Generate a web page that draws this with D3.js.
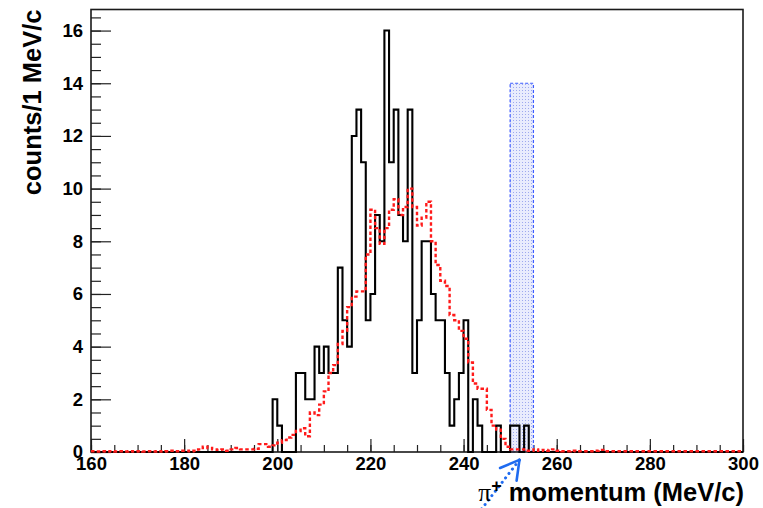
<!DOCTYPE html>
<html lang="en">
<head>
<meta charset="UTF-8">
<title>pi+ momentum</title>
<script src="https://d3js.org/d3.v7.min.js"></script>
<style>
  body { margin: 0; background: #fff; }
  svg { display: block; }
  .tick text { font-family: "Liberation Sans", Arial, sans-serif; font-weight: bold; font-size: 18.5px; fill: #000; }
  .tick line { stroke: #222; stroke-width: 1.2; }
  .domain { display: none; }
  .title { font-family: "Liberation Sans", Arial, sans-serif; font-weight: bold; font-size: 25.5px; fill: #000; }
</style>
</head>
<body>
<svg width="763" height="508"></svg>
<script>
// bins are 1 MeV/c wide
var xTicks = [160, 180, 200, 220, 240, 260, 280, 300];
var yTicks = [0, 2, 4, 6, 8, 10, 12, 14, 16];

// measured counts, first bin at 199 MeV/c
var dataStart = 199;
var dataCounts = [2, 1, 0, 0, 0, 3, 3, 2, 2, 4, 3, 4, 3, 3, 7, 5, 4, 12, 13, 11,
                  5, 6, 9, 8, 16, 11, 13, 9, 8, 13, 3, 5, 8, 8, 6, 5, 5, 3, 1, 2,
                  3, 5, 0, 2, 1, 0, 0, 0, 1, 0, 0, 1, 1, 0, 1];

// simulation (red dashed), first bin at 160 MeV/c
var simStart = 160;
var simCounts = [0.03, 0.02, 0.03, 0.02, 0.03, 0.02, 0.03, 0.02, 0.03, 0.02,
                 0.03, 0.02, 0.03, 0.02, 0.03, 0.02, 0.03, 0.05, 0.03, 0.05,
                 0.05, 0.03, 0.05, 0.1, 0.2, 0.15, 0.1, 0.08, 0.1, 0.05,
                 0.1, 0.15, 0.1, 0.1, 0.1, 0.12, 0.3, 0.3, 0.2, 0.25,
                 0.35, 0.45, 0.55, 0.65, 0.8, 0.9, 0.6, 1.5, 1.4, 1.8,
                 2.3, 3.0, 3.3, 4.1, 4.6, 5.5, 5.9, 6.1, 6.1, 7.5,
                 9.2, 8.5, 7.9, 8.5, 9.2, 9.6, 9.0, 9.3, 10.0, 9.3,
                 8.6, 8.9, 9.5, 8.0, 7.1, 6.5, 6.3, 5.2, 5.0, 4.6,
                 4.3, 3.4, 2.6, 2.4, 2.4, 1.6, 1.0, 0.85, 0.5, 0.2,
                 0.1, 0.1, 0.1, 0.05, 0.05, 0.1, 0.05, 0.08, 0.05, 0.1,
                 0.05, 0.03, 0.03, 0.05, 0.03, 0.03, 0.03, 0.03, 0.05, 0.08,
                 0.03, 0.03, 0.03, 0.03, 0.03, 0.03, 0.03, 0.03, 0.03, 0.03,
                 0.03, 0.03, 0.03, 0.03, 0.03, 0.03, 0.03, 0.03, 0.03, 0.03,
                 0.03, 0.03, 0.03, 0.03, 0.03, 0.03, 0.03, 0.03, 0.03, 0.03];

// signal window (blue box) and the arrow pointing at it
var boxRange = [250, 255];
var boxHeight = 14;
var arrowTip = [252, -0.3];
var arrowTail = [242.4, -2.5];

var svg = d3.select("svg");
var x = d3.scaleLinear().domain([160, 300]).range([91, 743]);
var y = d3.scaleLinear().domain([0, 16.8]).range([452, 9.5]);

// pattern for the blue box
var defs = svg.append("defs");
var pat = defs.append("pattern").attr("id", "dots")
    .attr("width", 3).attr("height", 3).attr("patternUnits", "userSpaceOnUse");
pat.append("rect").attr("width", 3).attr("height", 3).attr("fill", "#e9ecfd");
pat.append("rect").attr("width", 1).attr("height", 1).attr("fill", "#9ea9ee");

// ticks
svg.append("g")
    .attr("transform", "translate(0," + y(0) + ")")
    .call(d3.axisBottom(x).tickValues(d3.range(160, 301, 5)).tickSize(-7).tickFormat(""));
svg.append("g")
    .attr("transform", "translate(0," + y(0) + ")")
    .call(d3.axisBottom(x).tickValues(xTicks).tickSize(-13).tickPadding(5).tickFormat(d3.format("d")));
svg.append("g")
    .attr("transform", "translate(" + x(160) + ",0)")
    .call(d3.axisLeft(y).tickValues(d3.range(0, 16.6, 0.5)).tickSize(-10).tickFormat(""));
svg.append("g")
    .attr("transform", "translate(" + x(160) + ",0)")
    .call(d3.axisLeft(y).tickValues(yTicks).tickSize(-20).tickPadding(8).tickFormat(d3.format("d")));

// blue window
svg.append("rect")
    .attr("x", x(boxRange[0]))
    .attr("y", y(boxHeight))
    .attr("width", x(boxRange[1]) - x(boxRange[0]))
    .attr("height", y(0) - y(boxHeight))
    .attr("fill", "url(#dots)")
    .attr("stroke", "#3d5cff")
    .attr("stroke-width", 1.2)
    .attr("stroke-dasharray", "3,2");

function binPoints(start, counts) {
    var pts = [];
    for (var b = 160; b < 300; b++) {
        var i = b - start;
        var v = (i >= 0 && i < counts.length) ? counts[i] : 0;
        pts.push({ e: b, v: v });
    }
    pts.push({ e: 300, v: pts[pts.length - 1].v });
    return pts;
}

var step = d3.line()
    .x(function (d) { return x(d.e); })
    .y(function (d) { return y(d.v); })
    .curve(d3.curveStepAfter);

// frame
svg.append("rect")
    .attr("x", x(160)).attr("y", y(16.8))
    .attr("width", x(300) - x(160)).attr("height", y(0) - y(16.8))
    .attr("fill", "none").attr("stroke", "#1a1a1a").attr("stroke-width", 1.6);

// data histogram
svg.append("path")
    .datum(binPoints(dataStart, dataCounts))
    .attr("d", step)
    .attr("fill", "none")
    .attr("stroke", "#000")
    .attr("stroke-width", 2.1);

// simulation histogram
svg.append("path")
    .datum(binPoints(simStart, simCounts))
    .attr("d", step)
    .attr("fill", "none")
    .attr("stroke", "#ff1a1a")
    .attr("stroke-width", 2.4)
    .attr("stroke-dasharray", "3.5,2.5");

// arrow
var tip = [x(arrowTip[0]), y(arrowTip[1])];
var tail = [x(arrowTail[0]), y(arrowTail[1])];
var blue = "#1f6bf0";
svg.append("line")
    .attr("x1", tail[0]).attr("y1", tail[1])
    .attr("x2", tip[0]).attr("y2", tip[1])
    .attr("stroke", blue).attr("stroke-width", 3)
    .attr("stroke-linecap", "round").attr("stroke-dasharray", "0.1,5.5");
var ang = Math.atan2(tail[1] - tip[1], tail[0] - tip[0]);
[-0.52, 0.52].forEach(function (da) {
    svg.append("line")
        .attr("x1", tip[0]).attr("y1", tip[1])
        .attr("x2", tip[0] + 21 * Math.cos(ang + da))
        .attr("y2", tip[1] + 21 * Math.sin(ang + da))
        .attr("stroke", blue).attr("stroke-width", 2.6)
        .attr("stroke-linecap", "round");
});

// axis titles
var xt = svg.append("text").attr("class", "title")
    .attr("x", 744).attr("y", 501).attr("text-anchor", "end");
xt.append("tspan").attr("font-family", "'Liberation Serif', serif").attr("font-weight", "normal").text("π");
xt.append("tspan").attr("dy", -9).attr("font-size", "18px").text("+");
xt.append("tspan").attr("dy", 9).text(" momentum (MeV/c)");

svg.append("text").attr("class", "title")
    .attr("transform", "translate(41," + y(16.8) + ") rotate(-90)")
    .attr("text-anchor", "end")
    .text("counts/1 MeV/c");
</script>
</body>
</html>
